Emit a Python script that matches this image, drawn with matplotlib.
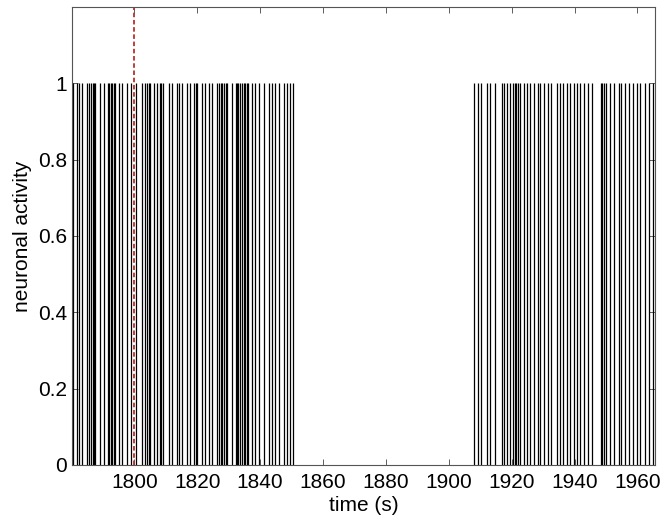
import matplotlib
matplotlib.use('Agg')
from matplotlib import pyplot as plt

# spike times (s)
spikes_early = [1780.6, 1781.7, 1782.5, 1783.3, 1784.9, 1785.6, 1786.2, 1786.7, 1787.2, 1787.6,
                1789.1, 1790.2, 1791.6, 1792.0, 1792.5, 1792.9, 1793.4, 1793.9, 1795.0, 1796.0,
                1797.6, 1799.0, 1800.5, 1802.4, 1803.5, 1804.0, 1804.5, 1805.0, 1806.1, 1807.2,
                1808.0, 1808.5, 1809.1, 1810.9, 1811.9, 1813.5, 1814.3, 1815.1, 1816.7, 1817.8,
                1818.9, 1819.5, 1820.0, 1821.5, 1822.5, 1823.6, 1824.7, 1826.4, 1826.9, 1827.4,
                1828.0, 1828.5, 1829.0, 1829.5, 1831.0, 1832.2, 1832.6, 1833.1, 1833.7, 1834.2,
                1834.7, 1835.3, 1835.8, 1836.2, 1837.4, 1838.4, 1839.5, 1841.1, 1842.7, 1843.7,
                1844.8, 1845.9, 1847.5, 1848.5, 1849.6, 1850.4]
spikes_late = [1907.9, 1909.3, 1910.4, 1912.2, 1913.0, 1914.8, 1916.9, 1917.7, 1918.5, 1919.6,
               1920.4, 1921.0, 1921.5, 1922.0, 1922.5, 1923.8, 1924.9, 1925.9, 1927.0, 1928.4,
               1929.1, 1930.2, 1931.6, 1932.6, 1934.4, 1935.5, 1936.2, 1937.6, 1938.7, 1939.7,
               1940.8, 1941.8, 1942.9, 1944.3, 1945.6, 1948.3, 1948.8, 1949.4, 1949.9, 1951.4,
               1952.4, 1954.0, 1954.9, 1956.2, 1957.2, 1958.5, 1959.9, 1960.9, 1962.3, 1963.6,
               1964.9]
marker_time = 1800
xticks = [1800, 1820, 1840, 1860, 1880, 1900, 1920, 1940, 1960]
yticks = [0, 0.2, 0.4, 0.6, 0.8, 1]

plt.rcParams['font.family'] = ['Liberation Sans', 'DejaVu Sans']

fig = plt.figure(figsize=(6.65, 5.23), dpi=100)
ax = fig.add_axes([0.109, 0.111, 0.876, 0.876])

ax.vlines(spikes_early + spikes_late, 0, 1, color='black', linewidth=0.9)
ax.axvline(marker_time, color='#b8302a', linestyle='--', linewidth=1.3, dashes=(2.5, 1.5))

ax.set_xlim(1780.3, 1965.6)
ax.set_ylim(0, 1.2)
ax.set_xticks(xticks)
ax.set_yticks(yticks)
ax.set_yticklabels(['0', '0.2', '0.4', '0.6', '0.8', '1'])
ax.tick_params(direction='in', top=True, right=True, labelsize=15, length=4, width=0.6,
               colors='#444444', labelcolor='black')
ax.tick_params(axis='x', pad=6)
ax.tick_params(axis='y', pad=4)
for s in ax.spines.values():
    s.set_color('#555555')
    s.set_linewidth(0.8)

ax.set_xlabel('time (s)', fontsize=15, labelpad=3)
ax.set_ylabel('neuronal activity', fontsize=15, labelpad=4)

fig.savefig('out.png', dpi=100)
